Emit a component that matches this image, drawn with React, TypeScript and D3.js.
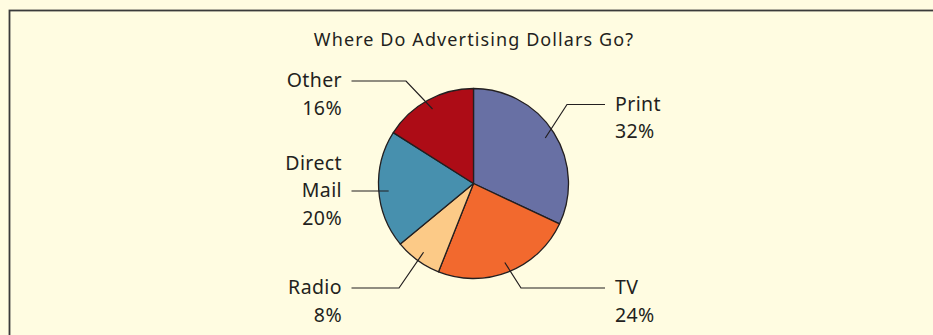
import React, { useEffect, useRef } from 'react';
import * as d3 from 'd3';

const title = 'Where Do Advertising Dollars Go?';
const categories = ['Print', 'TV', 'Radio', 'Direct Mail', 'Other'];
const shares = [32, 24, 8, 20, 16];
const labelLines = [['Print'], ['TV'], ['Radio'], ['Direct', 'Mail'], ['Other']];
const colors = ['#6870a4', '#f2692e', '#fcca87', '#4790ae', '#ad0c16'];

// where each label sits: side, y of the leader line, x of the elbow
const labelLayout = [
  { side: 'right', lineY: 104.5, elbowX: 567 },
  { side: 'right', lineY: 288, elbowX: 521 },
  { side: 'left', lineY: 288, elbowX: 399 },
  { side: 'left', lineY: 191, elbowX: null },
  { side: 'left', lineY: 81, elbowX: 406 }
];

const W = 933;
const H = 335;

const App = () => {
  const ref = useRef<SVGSVGElement>(null);

  useEffect(() => {
    const svg = d3.select(ref.current);
    svg.selectAll('*').remove();

    const cx = 473.5;
    const cy = 183.5;
    const radius = 95;
    const font = '"Noto Sans", "Open Sans", sans-serif';
    const textColor = '#231f20';

    svg.append('rect').attr('width', W).attr('height', H).attr('fill', '#fffce1');
    svg
      .append('rect')
      .attr('x', 9.5)
      .attr('y', 10.5)
      .attr('width', W + 20)
      .attr('height', H + 20)
      .attr('fill', 'none')
      .attr('stroke', '#3a3a3a')
      .attr('stroke-width', 1.8);

    svg
      .append('text')
      .attr('x', 474)
      .attr('y', 46)
      .attr('text-anchor', 'middle')
      .attr('font-family', font)
      .attr('font-size', 18)
      .attr('letter-spacing', 1.1)
      .attr('fill', textColor)
      .text(title);

    const data = categories.map((c, i) => ({ name: c, value: shares[i], i }));
    const pie = d3
      .pie<any>()
      .sort(null)
      .value(d => d.value);
    const arcs = pie(data);
    const arc = d3.arc<any>().innerRadius(0).outerRadius(radius);

    const g = svg.append('g').attr('transform', `translate(${cx},${cy})`);
    g.selectAll('path')
      .data(arcs)
      .join('path')
      .attr('d', arc)
      .attr('fill', d => colors[d.data.i])
      .attr('stroke', '#231f20')
      .attr('stroke-width', 1.3)
      .attr('stroke-linejoin', 'round');

    const leaderR = 85;
    const leftX = 351.5;
    const rightX = 605;
    const lineH = 27.5;

    arcs.forEach((a, i) => {
      const lay = labelLayout[i];
      const mid = (a.startAngle + a.endAngle) / 2;
      const px = cx + leaderR * Math.sin(mid);
      const py = cy - leaderR * Math.cos(mid);
      const endX = lay.side === 'left' ? leftX : rightX;
      const pts: [number, number][] = [[px, lay.elbowX == null ? lay.lineY : py]];
      if (lay.elbowX != null) pts.push([lay.elbowX, lay.lineY]);
      pts.push([endX, lay.lineY]);
      svg
        .append('path')
        .attr('d', d3.line()(pts))
        .attr('fill', 'none')
        .attr('stroke', '#231f20')
        .attr('stroke-width', 1.2);

      const lines = [...labelLines[i], `${shares[i]}%`];
      const nameCount = labelLines[i].length;
      // the leader meets the last line of the name
      const firstY = lay.lineY + 6 - (nameCount - 1) * lineH;
      const t = svg
        .append('text')
        .attr('font-family', font)
        .attr('font-size', 19.5)
        .attr('letter-spacing', 0.4)
        .attr('fill', textColor)
        .attr('text-anchor', lay.side === 'left' ? 'end' : 'start');
      lines.forEach((ln, k) => {
        t.append('tspan')
          .attr('x', lay.side === 'left' ? 342 : 615)
          .attr('y', firstY + k * lineH)
          .text(ln);
      });
    });
  }, []);

  return (
    <svg
      ref={ref}
      width={W}
      height={H}
      style={{ position: 'absolute', left: 0, top: 0, display: 'block' }}
    />
  );
};

export default App;
